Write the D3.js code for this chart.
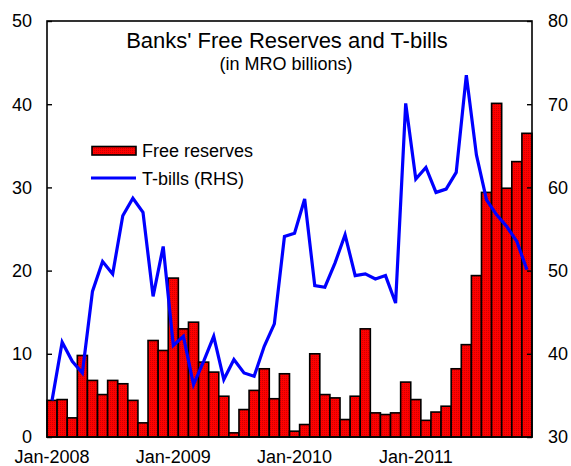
<!DOCTYPE html>
<html>
<head>
<meta charset="utf-8">
<script src="https://cdn.jsdelivr.net/npm/d3@7"></script>
<style>
  html, body { margin: 0; padding: 0; background: #fff; }
  svg { display: block; font-family: "Liberation Sans", Arial, sans-serif; }
</style>
</head>
<body>
<svg id="chart" width="571" height="466"></svg>
<script>
// Monthly observations, Jan-2008 .. Dec-2011
const months = d3.range(48).map(i => new Date(2008, i, 1));

// Free reserves (left axis, MRO billions)
const freeReserves = [
  4.4, 4.5, 2.3, 9.8, 6.8, 5.1, 6.8, 6.4, 4.4, 1.7, 11.6, 10.4,
  19.1, 13.0, 13.8, 9.0, 7.8, 4.9, 0.5, 3.3, 5.6, 8.2, 4.6, 7.6,
  0.7, 1.5, 10.0, 5.1, 4.7, 2.1, 4.9, 13.0, 2.9, 2.7, 2.9, 6.6,
  4.5, 2.0, 3.0, 3.7, 8.2, 11.1, 19.4, 29.4, 40.1, 29.9, 33.1, 36.5
];

// T-bills (right axis, MRO billions)
const tBills = [
  34.4, 41.4, 39.1, 37.7, 47.5, 51.1, 49.6, 56.6, 58.7, 57.0, 46.9, 52.9,
  41.0, 42.1, 36.3, 39.1, 42.1, 36.9, 39.3, 37.7, 37.3, 40.9, 43.6, 54.1,
  54.5, 58.6, 48.2, 48.0, 50.9, 54.3, 49.4, 49.6, 49.0, 49.4, 46.1, 70.1,
  61.0, 62.4, 59.4, 59.8, 61.8, 73.5, 63.9, 58.5, 56.7, 55.3, 53.5, 50.1
];

const leftTicks = [0, 10, 20, 30, 40, 50];
const rightTicks = [30, 40, 50, 60, 70, 80];
const yearLabels = ["Jan-2008", "Jan-2009", "Jan-2010", "Jan-2011"];
const yearIndex = [0, 12, 24, 36];

const svg = d3.select("#chart");
const plot = { left: 47, right: 532, top: 21, bottom: 437 };

const x = d3.scaleBand()
  .domain(d3.range(months.length))
  .range([plot.left, plot.right])
  .paddingInner(0).paddingOuter(0);

const yL = d3.scaleLinear().domain([0, 50]).range([plot.bottom, plot.top]);
const yR = d3.scaleLinear().domain([30, 80]).range([plot.bottom, plot.top]);

// Dotted red fill for the bars
const defs = svg.append("defs");
const pat = defs.append("pattern")
  .attr("id", "reddots")
  .attr("patternUnits", "userSpaceOnUse")
  .attr("width", 2).attr("height", 2);
pat.append("rect").attr("width", 2).attr("height", 2).attr("fill", "#ff0000");
pat.append("rect").attr("width", 1).attr("height", 1).attr("fill", "#d00000");

// Bars
svg.append("g")
  .selectAll("rect")
  .data(freeReserves)
  .join("rect")
  .attr("x", (d, i) => x(i))
  .attr("width", x.bandwidth())
  .attr("y", d => yL(d))
  .attr("height", d => yL(0) - yL(d))
  .attr("fill", "url(#reddots)")
  .attr("stroke", "#000")
  .attr("stroke-width", 1.6);

// T-bills line
const line = d3.line()
  .x((d, i) => x(i) + x.bandwidth() / 2)
  .y(d => yR(d));

svg.append("path")
  .datum(tBills)
  .attr("d", line)
  .attr("fill", "none")
  .attr("stroke", "#0000ff")
  .attr("stroke-width", 3.2)
  .attr("stroke-linejoin", "miter");

// Frame
svg.append("rect")
  .attr("x", plot.left).attr("y", plot.top)
  .attr("width", plot.right - plot.left)
  .attr("height", plot.bottom - plot.top)
  .attr("fill", "none")
  .attr("stroke", "#000")
  .attr("stroke-width", 1.6);

// Left axis (ticks point inward)
const axL = svg.append("g")
  .attr("transform", `translate(${plot.left},0)`)
  .call(d3.axisRight(yL).tickValues(leftTicks).tickSize(5).tickFormat(""));
axL.select(".domain").remove();
axL.selectAll("line").attr("stroke", "#000").attr("stroke-width", 1.4);

svg.append("g").selectAll("text")
  .data(leftTicks)
  .join("text")
  .attr("x", 32)
  .attr("y", d => yL(d))
  .attr("dy", "0.35em")
  .attr("text-anchor", "end")
  .attr("font-size", 18)
  .text(d => d);

// Right axis (ticks point inward)
const axR = svg.append("g")
  .attr("transform", `translate(${plot.right},0)`)
  .call(d3.axisLeft(yR).tickValues(rightTicks).tickSize(5).tickFormat(""));
axR.select(".domain").remove();
axR.selectAll("line").attr("stroke", "#000").attr("stroke-width", 1.4);

svg.append("g").selectAll("text")
  .data(rightTicks)
  .join("text")
  .attr("x", 548)
  .attr("y", d => yR(d))
  .attr("dy", "0.35em")
  .attr("text-anchor", "start")
  .attr("font-size", 18)
  .text(d => d);

// Year labels
svg.append("g").selectAll("text")
  .data(yearLabels)
  .join("text")
  .attr("x", (d, i) => x(yearIndex[i]) + x.bandwidth() / 2)
  .attr("y", 463)
  .attr("text-anchor", "middle")
  .attr("font-size", 18)
  .text(d => d);

// Title
svg.append("text")
  .attr("x", 287).attr("y", 47.5)
  .attr("text-anchor", "middle")
  .attr("font-size", 22)
  .text("Banks' Free Reserves and T-bills");
svg.append("text")
  .attr("x", 286).attr("y", 70)
  .attr("text-anchor", "middle")
  .attr("font-size", 18)
  .text("(in MRO billions)");

// Legend
const lg = svg.append("g");
lg.append("rect")
  .attr("x", 92).attr("y", 146.5)
  .attr("width", 44).attr("height", 8.5)
  .attr("fill", "url(#reddots)")
  .attr("stroke", "#000")
  .attr("stroke-width", 1.6);
lg.append("text")
  .attr("x", 142).attr("y", 157)
  .attr("font-size", 18)
  .text("Free reserves");
lg.append("line")
  .attr("x1", 91).attr("x2", 136)
  .attr("y1", 178).attr("y2", 178)
  .attr("stroke", "#0000ff")
  .attr("stroke-width", 3.2);
lg.append("text")
  .attr("x", 142).attr("y", 184.5)
  .attr("font-size", 18)
  .text("T-bills (RHS)");
</script>
</body>
</html>
